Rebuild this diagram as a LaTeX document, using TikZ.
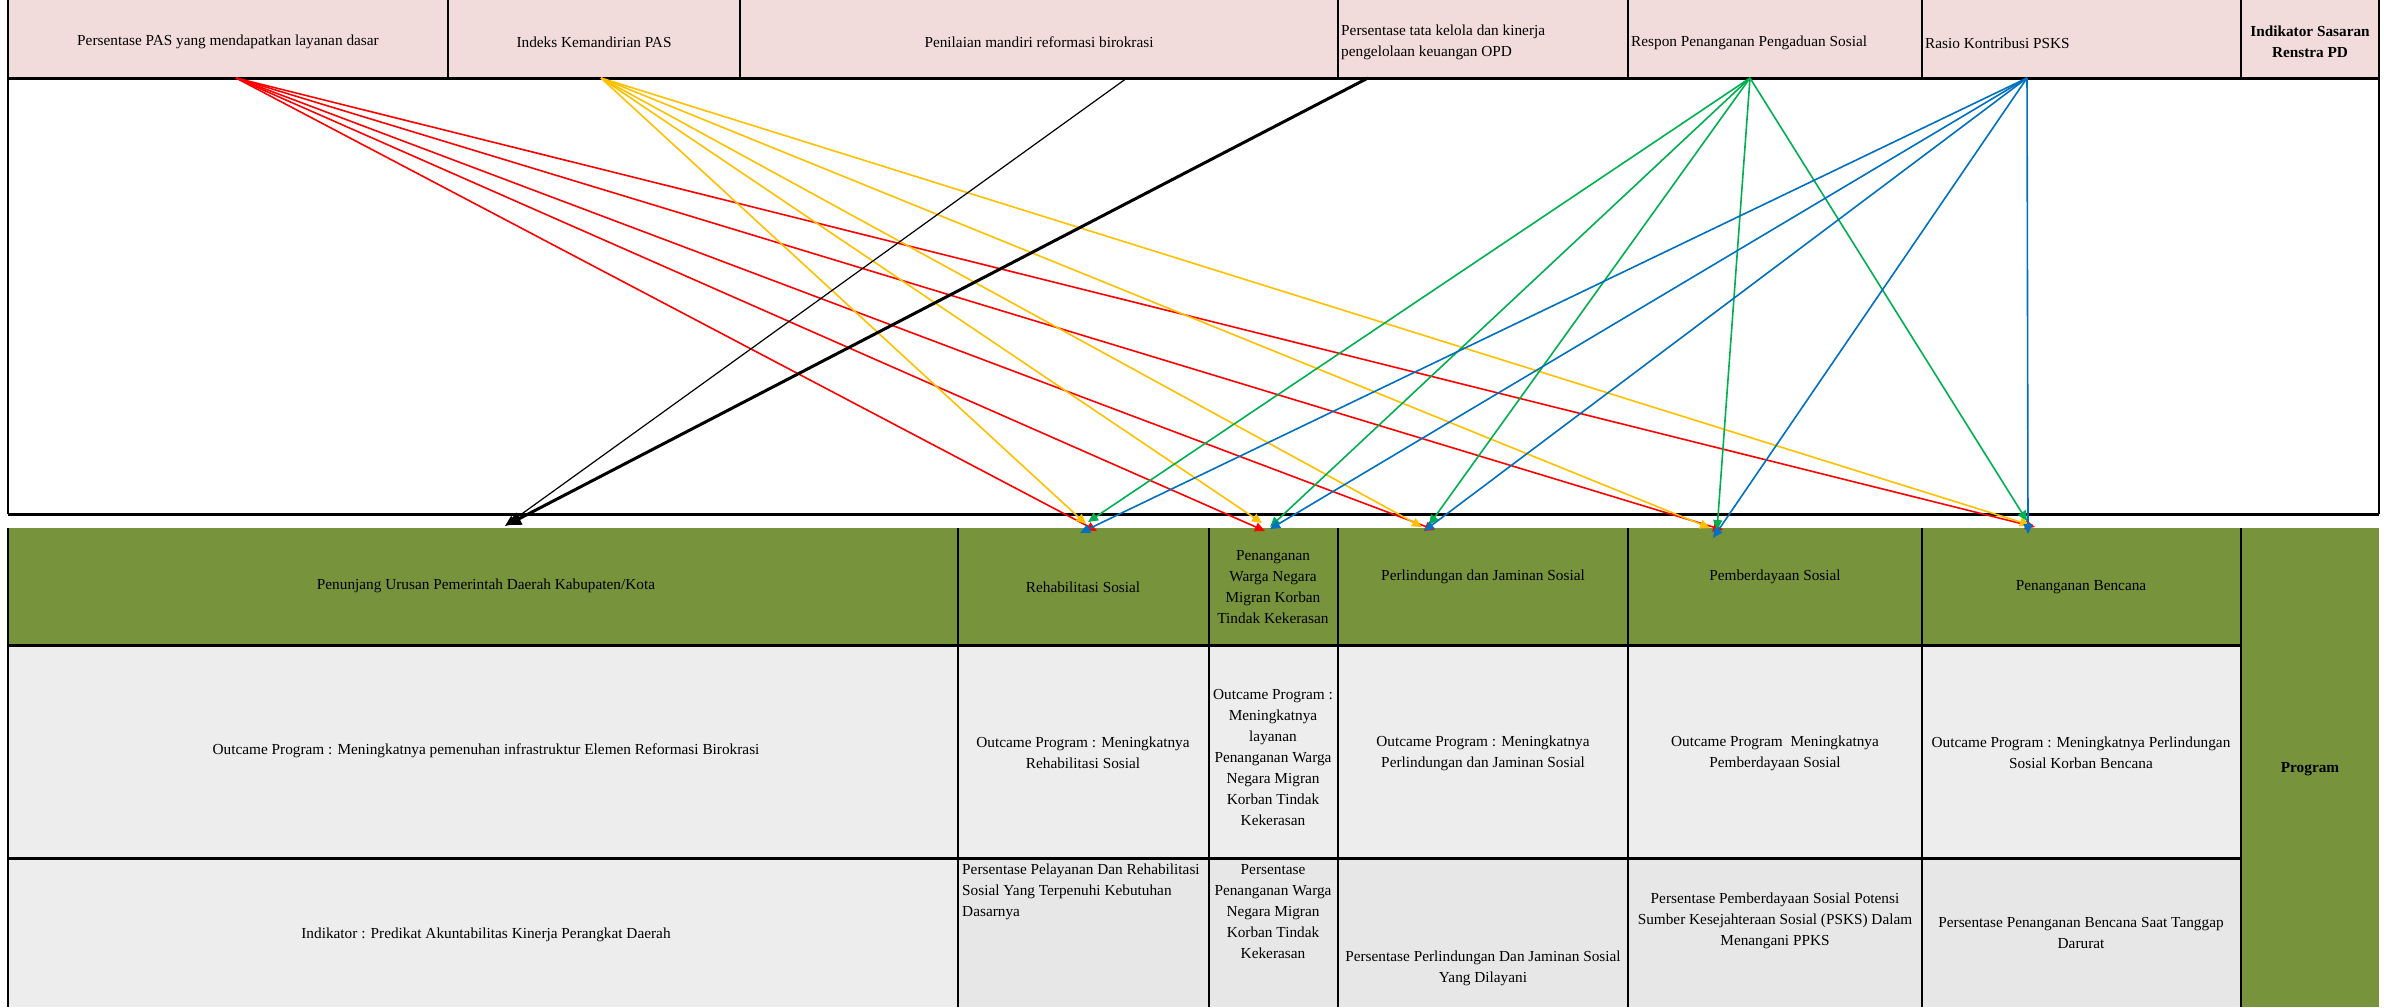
\documentclass[tikz,border=0pt]{standalone}
\usepackage{fontspec}
\setmainfont{Liberation Serif}
\usetikzlibrary{arrows.meta}
\definecolor{hdrpink}{HTML}{F2DCDB}
\definecolor{olivegreen}{HTML}{77933C}
\definecolor{rowgray}{HTML}{EDEDED}
\definecolor{rowgrayb}{HTML}{E7E7E7}
\definecolor{ared}{HTML}{FF0000}
\definecolor{aorange}{HTML}{FFC000}
\definecolor{agreen}{HTML}{00B050}
\definecolor{ablue}{HTML}{0070C0}
\begin{document}
\begin{tikzpicture}[x=1pt,y=-1pt,
  txt/.style={font=\fontsize{15.3}{21}\selectfont, inner sep=0pt, align=center},
  txtl/.style={font=\fontsize{15.3}{21}\selectfont, inner sep=0pt, align=left},
  bld/.style={font=\fontsize{15.3}{21}\selectfont\bfseries, inner sep=0pt, align=center},
  gridline/.style={line width=2pt, black},
  heavyline/.style={line width=3pt, black},
  conn/.style={line width=1.6pt, -{Triangle[length=10pt,width=9pt]}},
  thinblack/.style={line width=1.2pt, black, -{Triangle[length=11pt,width=9pt]}},
  thickblack/.style={line width=3pt, black, -{Triangle[length=14pt,width=13pt]}}
]
\useasboundingbox (0,0) rectangle (2384,1007);
\fill[white] (0,0) rectangle (2384,1007);

% ---------- header row ----------
\fill[hdrpink] (8,0) rectangle (2379,78);
\foreach \xx in {448,740,1338,1628,1922,2241}
  \draw[gridline] (\xx,0) -- (\xx,78);
\draw[gridline] (8,0) -- (8,514);
\draw[gridline] (2379,0) -- (2379,514);
\draw[heavyline] (8,78) -- (2379,78);
\draw[heavyline] (8,514) -- (2379,514);

\node[txt] (h1) at (228,42) {Persentase PAS yang mendapatkan layanan dasar};
\node[txt] (h2) at (594,42) {Indeks Kemandirian PAS};
\node[txt] (h3) at (1039,42) {Penilaian mandiri reformasi birokrasi};
\node[txtl, anchor=west] (h4) at (1341,42) {Persentase tata kelola dan kinerja\\pengelolaan keuangan OPD};
\node[txtl, anchor=west] (h5) at (1631,43) {Respon Penanganan Pengaduan Sosial};
\node[txtl, anchor=west] (h6) at (1925,43) {Rasio Kontribusi PSKS};
\node[bld] (h7) at (2310,42) {Indikator Sasaran\\Renstra PD};

% ---------- lower table ----------
\fill[olivegreen] (8,528) rectangle (2379,645);
\fill[olivegreen] (2241,528) rectangle (2379,1007);
\fill[rowgray] (8,645) rectangle (2241,858);
\fill[rowgray] (8,858) rectangle (958,1007);
\fill[rowgrayb] (958,858) rectangle (2241,1007);
\foreach \xx in {958,1209,1338,1628,1922,2241}
  \draw[gridline] (\xx,528) -- (\xx,1007);
\draw[gridline] (8,528) -- (8,1007);
\draw[heavyline] (8,645) -- (2241,645);
\draw[heavyline] (8,858) -- (2241,858);

% green row
\node[txt] (g1) at (486,586) {Penunjang Urusan Pemerintah Daerah Kabupaten/Kota};
\node[txt] (g2) at (1083,587) {Rehabilitasi Sosial};
\node[txt] (g3) at (1273,587) {Penanganan\\Warga Negara\\Migran Korban\\Tindak Kekerasan};
\node[txt] (g4) at (1483,577) {Perlindungan dan Jaminan Sosial};
\node[txt] (g5) at (1775,577) {Pemberdayaan Sosial};
\node[txt] (g6) at (2081,587) {Penanganan Bencana};
\node[bld] (prog) at (2310,769) {Program};

% outcome row
\node[txt] (o1) at (486,751) {Outcame Program : Meningkatnya pemenuhan infrastruktur Elemen Reformasi Birokrasi};
\node[txt] (o2) at (1083,753) {Outcame Program : Meningkatnya\\Rehabilitasi Sosial};
\node[txt] (o3) at (1273,757) {Outcame Program :\\Meningkatnya\\layanan\\Penanganan Warga\\Negara Migran\\Korban Tindak\\Kekerasan};
\node[txt] (o4) at (1483,753) {Outcame Program : Meningkatnya\\Perlindungan dan Jaminan Sosial};
\node[txt] (o5) at (1775,753) {Outcame Program \ Meningkatnya\\Pemberdayaan Sosial};
\node[txt] (o6) at (2081,753) {Outcame Program : Meningkatnya Perlindungan\\Sosial Korban Bencana};

% indicator row
\node[txt] (i1) at (486,935) {Indikator : Predikat Akuntabilitas Kinerja Perangkat Daerah};
\node[txtl, anchor=north west] (i2) at (962,864) {Persentase Pelayanan Dan Rehabilitasi\\Sosial Yang Terpenuhi Kebutuhan\\Dasarnya};
\node[txt, anchor=north] (i3) at (1273,864) {Persentase\\Penanganan Warga\\Negara Migran\\Korban Tindak\\Kekerasan};
\node[txt] (i4) at (1483,968) {Persentase Perlindungan Dan Jaminan Sosial\\Yang Dilayani};
\node[txt] (i5) at (1775,921) {Persentase Pemberdayaan Sosial Potensi\\Sumber Kesejahteraan Sosial (PSKS) Dalam\\Menangani PPKS};
\node[txt] (i6) at (2081,933) {Persentase Penanganan Bencana Saat Tanggap\\Darurat};

% ---------- connector end points ----------
\coordinate (sR) at (236,78);
\coordinate (sO) at (601,78);
\coordinate (sK) at (1127,78);
\coordinate (sT) at (1368,78);
\coordinate (sG) at (1750,78);
\coordinate (sB) at (2027,78);

\coordinate (tR1) at (1097,531);
\coordinate (tR2) at (1265,531);
\coordinate (tR3) at (1435,530);
\coordinate (tR4) at (1723,530);
\coordinate (tR5) at (2035,527);

\coordinate (tO1) at (1086,524);
\coordinate (tO2) at (1262,523);
\coordinate (tO3) at (1422,527);
\coordinate (tO4) at (1710,528);
\coordinate (tO5) at (2030,525);

\coordinate (tG1) at (1088,522);
\coordinate (tG2) at (1270,527);
\coordinate (tG3) at (1429,525);
\coordinate (tG4) at (1717,530);
\coordinate (tG5) at (2027,521);

\coordinate (tB1) at (1080,533);
\coordinate (tB2) at (1270,529);
\coordinate (tB3) at (1424,531);
\coordinate (tB4) at (1713,538);
\coordinate (tB5) at (2028,534);

\coordinate (tK) at (505,526);
\coordinate (tT) at (507,525);

% ---------- connectors ----------
\foreach \i in {1,...,5} \draw[conn, ared] (sR) -- (tR\i);
\foreach \i in {1,...,5} \draw[conn, aorange] (sO) -- (tO\i);
\foreach \i in {1,...,5} \draw[conn, agreen] (sG) -- (tG\i);
\foreach \i in {1,...,5} \draw[conn, ablue] (sB) -- (tB\i);
\draw[thinblack] (sK) -- (tK);
\draw[thickblack] (sT) -- (tT);
\end{tikzpicture}
\end{document}
